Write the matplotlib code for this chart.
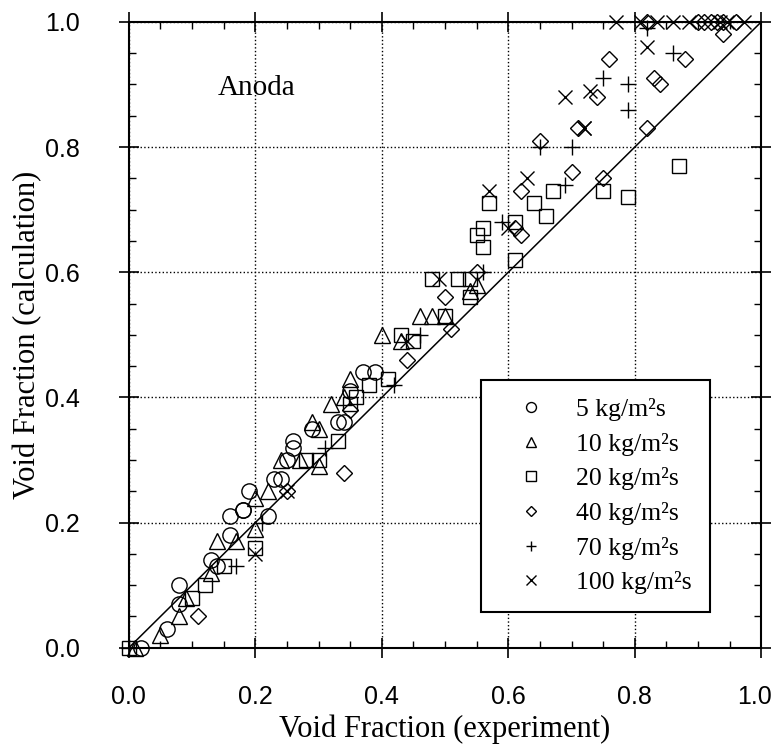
import matplotlib
matplotlib.use('Agg')
import matplotlib.pyplot as plt
from matplotlib.ticker import MultipleLocator, FuncFormatter

# void fraction: experiment (x) vs calculation (y), Anoda data
circ_x = [0.02, 0.06, 0.08, 0.08, 0.13, 0.14, 0.16, 0.16, 0.18, 0.19, 0.18, 0.22,
          0.23, 0.24, 0.25, 0.26, 0.26, 0.29, 0.33, 0.34, 0.35, 0.37, 0.39]
circ_y = [0.00, 0.03, 0.07, 0.10, 0.14, 0.13, 0.18, 0.21, 0.22, 0.25, 0.22, 0.21,
          0.27, 0.27, 0.30, 0.33, 0.32, 0.35, 0.36, 0.36, 0.41, 0.44, 0.44]

tri_x = [0.01, 0.05, 0.08, 0.09, 0.13, 0.14, 0.17, 0.20, 0.20, 0.22, 0.24, 0.27, 0.30,
         0.29, 0.30, 0.32, 0.34, 0.35, 0.40, 0.43, 0.46, 0.48, 0.50, 0.54, 0.55]
tri_y = [0.00, 0.02, 0.05, 0.08, 0.12, 0.17, 0.17, 0.19, 0.24, 0.25, 0.30, 0.30, 0.29,
         0.36, 0.35, 0.39, 0.40, 0.43, 0.50, 0.49, 0.53, 0.53, 0.53, 0.57, 0.58]

sq_x = [0.00, 0.10, 0.12, 0.15, 0.20, 0.28, 0.30, 0.33, 0.35, 0.36, 0.38, 0.41, 0.43,
        0.45, 0.48, 0.50, 0.52, 0.54, 0.54, 0.55, 0.56, 0.56, 0.57, 0.61, 0.61, 0.64,
        0.66, 0.67, 0.75, 0.79, 0.87]
sq_y = [0.00, 0.08, 0.10, 0.13, 0.16, 0.30, 0.30, 0.33, 0.39, 0.40, 0.42, 0.43, 0.50,
        0.49, 0.59, 0.53, 0.59, 0.59, 0.56, 0.66, 0.64, 0.67, 0.71, 0.68, 0.62, 0.71,
        0.69, 0.73, 0.73, 0.72, 0.77]

dia_x = [0.11, 0.25, 0.34, 0.35, 0.44, 0.50, 0.51, 0.55, 0.61, 0.62, 0.62, 0.65, 0.70,
         0.71, 0.74, 0.75, 0.76, 0.82, 0.83, 0.84, 0.88, 0.94,
         0.82, 0.90, 0.91, 0.92, 0.93, 0.94, 0.96]
dia_y = [0.05, 0.25, 0.28, 0.38, 0.46, 0.56, 0.51, 0.60, 0.67, 0.66, 0.73, 0.81, 0.76,
         0.83, 0.88, 0.75, 0.94, 0.83, 0.91, 0.90, 0.94, 0.98,
         1.00, 1.00, 1.00, 1.00, 1.00, 1.00, 1.00]

plus_x = [0.00, 0.17, 0.21, 0.31, 0.42, 0.46, 0.56, 0.59, 0.65, 0.70, 0.69, 0.75,
          0.79, 0.79, 0.86, 0.82]
plus_y = [0.00, 0.13, 0.20, 0.32, 0.42, 0.50, 0.60, 0.68, 0.80, 0.80, 0.74, 0.91,
          0.90, 0.86, 0.95, 0.99]

x_x = [0.20, 0.25, 0.44, 0.49, 0.57, 0.60, 0.63, 0.69, 0.72, 0.72, 0.73, 0.82,
       0.77, 0.81, 0.835, 0.86, 0.885, 0.935, 0.946, 0.972]
x_y = [0.15, 0.25, 0.49, 0.59, 0.73, 0.67, 0.75, 0.88, 0.83, 0.83, 0.89, 0.96,
       1.00, 1.00, 1.00, 1.00, 1.00, 1.00, 1.00, 1.00]

labels = ['5 kg/m²s', '10 kg/m²s', '20 kg/m²s', '40 kg/m²s', '70 kg/m²s', '100 kg/m²s']

serif = ['Liberation Serif', 'DejaVu Serif']
sans = ['Liberation Sans', 'DejaVu Sans']
plt.rcParams['font.family'] = sans

fig = plt.figure(figsize=(7.76, 7.55), dpi=100)
ax = fig.add_axes([0.166, 0.142, 0.815, 0.829])

kw = dict(ls='none', mfc='none', mec='black', color='black', clip_on=False, mew=1.0)
ax.plot(circ_x, circ_y, marker='o', ms=11, label=labels[0], **kw)
ax.plot(tri_x, tri_y, marker='^', ms=11, label=labels[1], **kw)
ax.plot(sq_x, sq_y, marker='s', ms=10, label=labels[2], **kw)
ax.plot(dia_x, dia_y, marker='D', ms=8.5, label=labels[3], **kw)
ax.plot(plus_x, plus_y, marker='+', ms=12, label=labels[4], **kw)
ax.plot(x_x, x_y, marker='x', ms=10, label=labels[5], **kw)

# 1:1 line
ax.plot([0, 1], [0, 1], color='black', lw=1.1)

ax.text(0.14, 0.895, 'Anoda', family=serif, fontsize=21, va='center')

ax.set_xlim(0, 1)
ax.set_ylim(0, 1)
ax.xaxis.set_major_locator(MultipleLocator(0.2))
ax.yaxis.set_major_locator(MultipleLocator(0.2))
ax.xaxis.set_minor_locator(MultipleLocator(0.05))
ax.yaxis.set_minor_locator(MultipleLocator(0.05))
# the 1.0 label on x would stick out of the figure, it is drawn by hand below
ax.xaxis.set_major_formatter(FuncFormatter(lambda v, p: '' if v > 0.99 else f'{v:.1f}'))
ax.tick_params(which='major', direction='inout', length=14, width=1.2,
               top=True, right=True, labelsize=18)
ax.tick_params(axis='x', which='major', pad=20)
ax.tick_params(axis='y', which='major', pad=28)
ax.tick_params(which='minor', direction='in', length=5, width=1.0,
               top=True, right=True)
ax.annotate('1.0', xy=(1, 0), xycoords='axes fraction', xytext=(-5, -27),
            textcoords='offset points', ha='center', va='top', fontsize=18)
for s in ax.spines.values():
    s.set_linewidth(1.5)
ax.grid(True, which='major', ls=':', color='black', lw=1.0)

ax.set_xlabel('Void Fraction (experiment)', family=serif, fontsize=22, labelpad=4)
ax.set_ylabel('Void Fraction (calculation)', family=serif, fontsize=22, labelpad=2)

leg = ax.legend(loc='lower left', bbox_to_anchor=(0.557, 0.057), fancybox=False,
                edgecolor='black', framealpha=1, markerscale=0.65,
                prop={'family': serif, 'size': 18.5}, labelspacing=0.45,
                handlelength=2.5, handletextpad=0.5, borderpad=0.7, borderaxespad=0)
leg.get_frame().set_linewidth(1.5)

fig.savefig('out.png', dpi=100)
